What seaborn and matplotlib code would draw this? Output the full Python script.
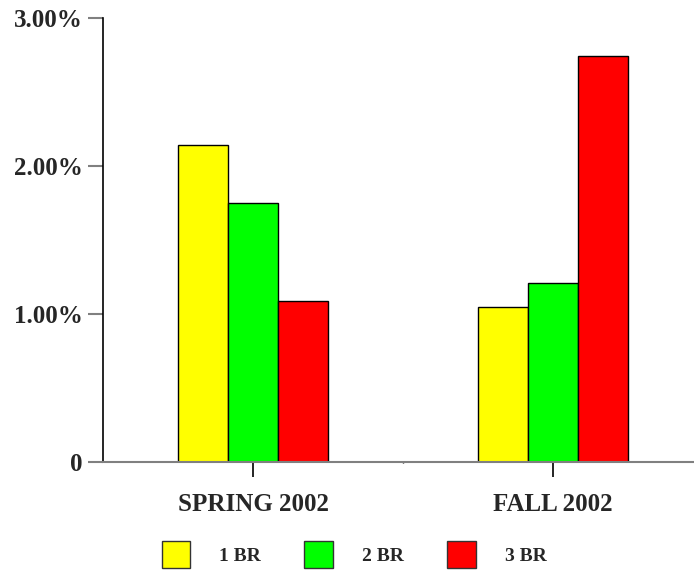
import matplotlib
matplotlib.use("Agg")
import matplotlib.pyplot as plt
from matplotlib.patches import Patch
from matplotlib.ticker import FixedLocator
import seaborn as sns
import pandas as pd

seasons = ["SPRING 2002", "FALL 2002"]
unit_types = ["1 BR", "2 BR", "3 BR"]
rate_1br = [2.14, 1.05]
rate_2br = [1.75, 1.21]
rate_3br = [1.09, 2.74]
ytick_values = [0, 1, 2, 3]
ytick_labels = ["0", "1.00%", "2.00%", "3.00%"]
palette = ["#FFFF00", "#00FF00", "#FF0000"]

rows = []
for unit, vals in zip(unit_types, [rate_1br, rate_2br, rate_3br]):
    for season, v in zip(seasons, vals):
        rows.append({"season": season, "unit": unit, "rate": v})
df = pd.DataFrame(rows)

sns.set_style("white")
plt.rcParams["font.family"] = ["Liberation Serif", "DejaVu Serif"]
plt.rcParams["font.weight"] = "bold"

fig = plt.figure(figsize=(6.94, 5.70), dpi=100)
ax = fig.add_axes([103 / 694, (570 - 462) / 570, 591 / 694, (462 - 18) / 570])

sns.barplot(data=df, x="season", y="rate", hue="unit", order=seasons,
            hue_order=unit_types, palette=palette, width=0.5, gap=0,
            edgecolor="black", linewidth=1, saturation=1, errorbar=None,
            legend=False, ax=ax)

ax.set_xlim(-0.5, 1.47)
ax.set_ylim(0, 3)
ax.set_xlabel("")
ax.set_ylabel("")
ax.set_yticks(ytick_values)
ax.set_yticklabels(ytick_labels, fontsize=18, fontweight="bold")
ax.set_xticks(range(len(seasons)))
ax.set_xticklabels(seasons, fontsize=18, fontweight="bold")
ax.xaxis.set_minor_locator(FixedLocator([0.5]))

for side in ["top", "right"]:
    ax.spines[side].set_visible(False)
ax.spines["left"].set_color("black")
ax.spines["left"].set_linewidth(1.2)
ax.spines["bottom"].set_color("#808080")
ax.spines["bottom"].set_linewidth(1.5)

ax.tick_params(axis="y", which="major", left=True, direction="out",
               length=11, width=1.5, color="#808080", pad=3.5)
ax.tick_params(axis="x", which="major", bottom=True, direction="out",
               length=11, width=1.2, color="black", pad=11)
ax.tick_params(axis="x", which="minor", bottom=True, direction="inout",
               length=2, width=1, color="black")
ax.grid(False)

handles = [Patch(facecolor=c, edgecolor="#333333", linewidth=1) for c in palette]
fig.legend(handles, unit_types, loc="center", bbox_to_anchor=(354 / 694, 1 - 554.5 / 570),
           ncol=3, frameon=False, prop={"size": 14, "weight": "bold"},
           handlelength=1.45, handleheight=1.75, handletextpad=1.5,
           columnspacing=2.25, borderaxespad=0)

fig.savefig("out.png", dpi=100)
